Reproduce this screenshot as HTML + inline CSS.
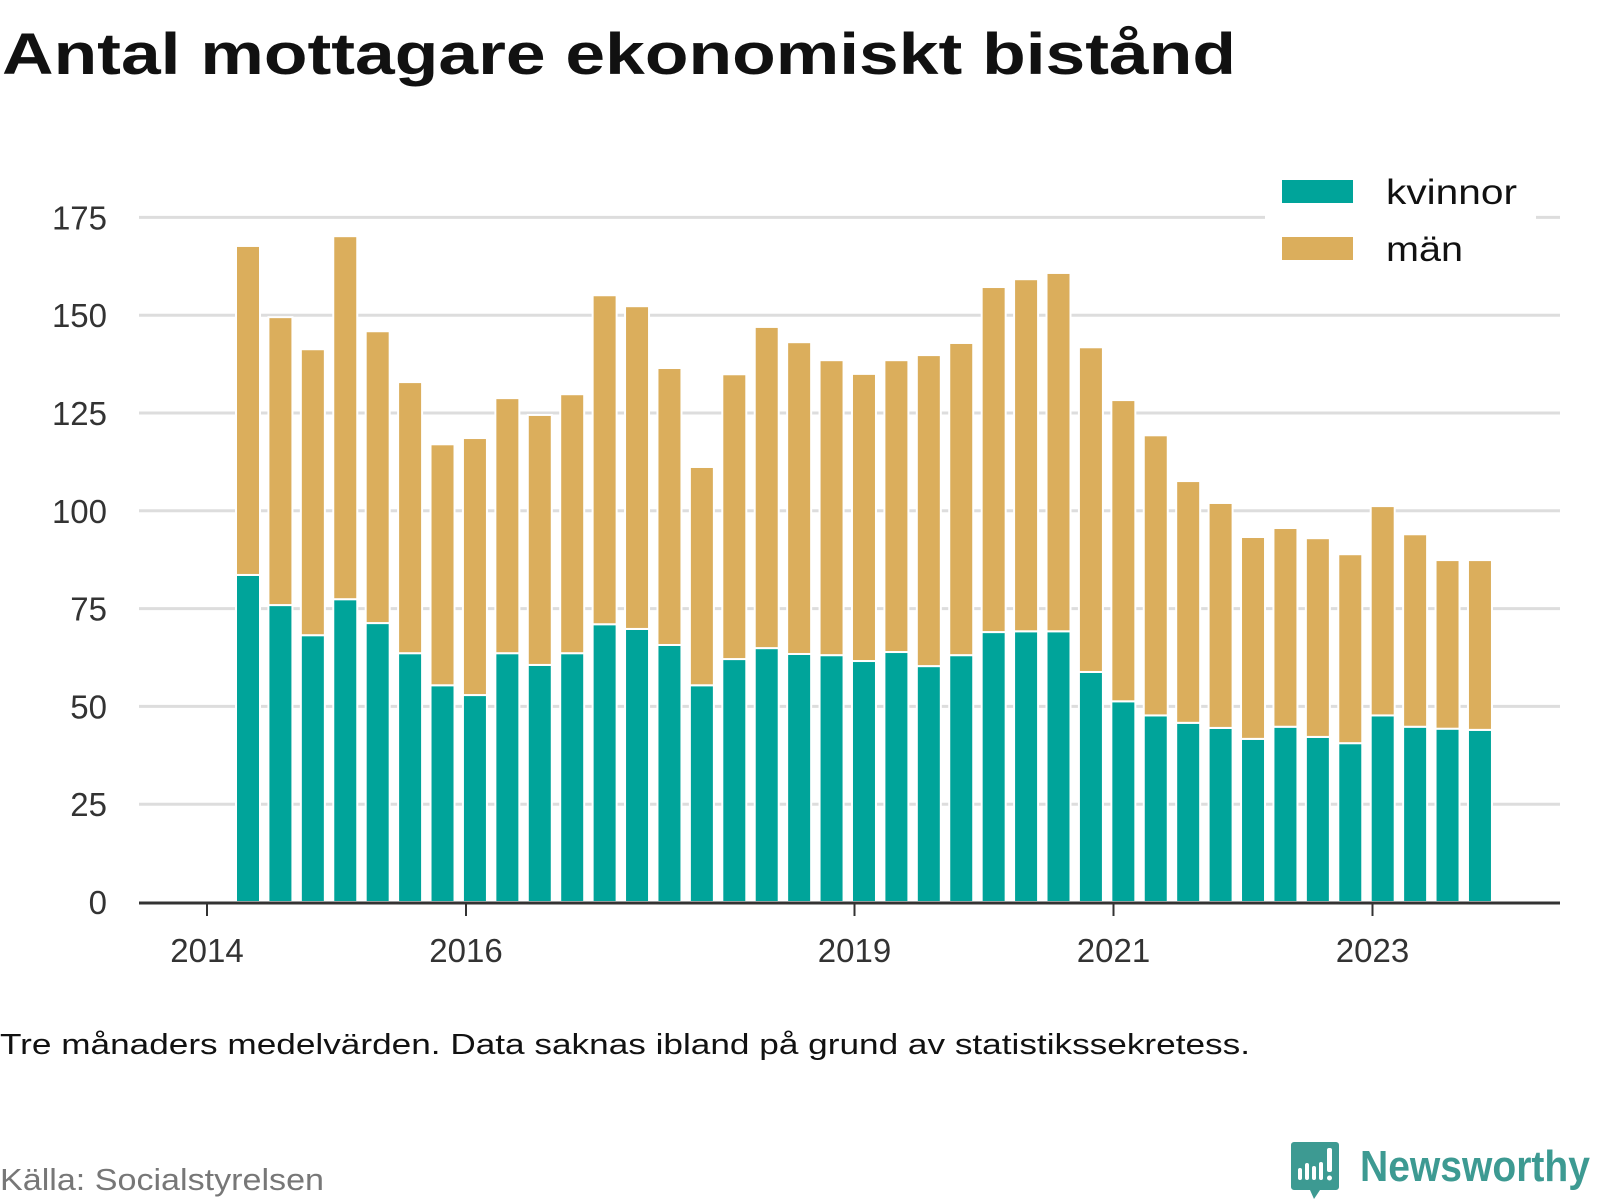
<!DOCTYPE html>
<html><head><meta charset="utf-8"><style>
html,body{margin:0;padding:0;background:#fff;}
svg{display:block;font-family:"Liberation Sans",sans-serif;}
</style></head><body>
<svg width="1600" height="1200" viewBox="0 0 1600 1200" xmlns="http://www.w3.org/2000/svg">
<text x="2" y="74" font-size="58" font-weight="bold" fill="#111" textLength="1234" lengthAdjust="spacingAndGlyphs">Antal mottagare ekonomiskt bistånd</text>
<g id="grid"></g>
<g id="ylabels"></g>
<g id="bars"></g>
<line x1="139" y1="903" x2="1560" y2="903" stroke="#333" stroke-width="3"/>
<g id="xlabels"></g>
<g>
<rect x="1265" y="168" width="271" height="110" fill="#fff"/>
<rect x="1282" y="180" width="71" height="23" fill="#00a49a"/>
<text x="1386" y="204" font-size="35" fill="#111" textLength="131" lengthAdjust="spacingAndGlyphs">kvinnor</text>
<rect x="1282" y="237" width="71" height="23" fill="#dbae5c"/>
<text x="1386" y="261" font-size="35" fill="#111" textLength="77" lengthAdjust="spacingAndGlyphs">män</text>
</g>
<text x="0" y="1054" font-size="29" fill="#111" textLength="1250" lengthAdjust="spacingAndGlyphs">Tre månaders medelvärden. Data saknas ibland på grund av statistikssekretess.</text>
<text x="0" y="1190" font-size="31" fill="#777" textLength="324" lengthAdjust="spacingAndGlyphs">Källa: Socialstyrelsen</text>
<g>
<path d="M1294 1142 h42 a3 3 0 0 1 3 3 v42 a3 3 0 0 1 -3 3 h-16 l-6 9 l-4 -9 h-16 a3 3 0 0 1 -3 -3 v-42 a3 3 0 0 1 3 -3z" fill="#3d9a92"/>
<rect x="1298" y="1168" width="4" height="12" rx="2" fill="#fff"/>
<rect x="1305" y="1163" width="4" height="17" rx="2" fill="#fff"/>
<rect x="1312" y="1166" width="4" height="14" rx="2" fill="#fff"/>
<rect x="1319" y="1162" width="4" height="18" rx="2" fill="#fff"/>
<rect x="1327" y="1148" width="5" height="24" rx="2" fill="#fff"/>
<circle cx="1329.5" cy="1178" r="2.5" fill="#fff"/>
<text x="1360" y="1181" font-size="44" font-weight="bold" fill="#3d9a92" textLength="230" lengthAdjust="spacingAndGlyphs">Newsworthy</text>
</g>
</svg>
<script>
const kvinnor = [83.6,75.9,68.2,77.4,71.3,63.6,55.4,52.9,63.6,60.6,63.6,71.0,69.8,65.7,55.4,62.1,64.9,63.4,63.1,61.6,63.9,60.3,63.1,69.0,69.2,69.2,58.8,51.3,47.7,45.8,44.5,41.7,44.8,42.2,40.6,47.7,44.8,44.3,44.0];
const totals = [167.7,149.5,141.3,170.2,145.9,132.9,117.0,118.6,128.8,124.5,129.8,155.1,152.3,136.5,111.2,134.9,147.0,143.1,138.5,135.0,138.5,139.8,142.9,157.2,159.2,160.8,141.8,128.3,119.3,107.6,102.0,93.3,95.6,93.0,88.9,101.2,94.0,87.4,87.4];
const man = totals.map((t,i)=>+(t-kvinnor[i]).toFixed(1));
const yTicks = [0,25,50,75,100,125,150,175];
const xTickYears = [2014,2016,2019,2021,2023];

const NS='http://www.w3.org/2000/svg';
const y0=902, pxPerUnit=3.912;
const yScale=v=>y0-v*pxPerUnit;
const bandStart=248, bandStep=32.42, barW=24;
const xScale=i=>bandStart+i*bandStep;
const yearX=yr=>207+(yr-2014)*129.5;
function mk(tag,attrs,parent){const e=document.createElementNS(NS,tag);for(const k in attrs)e.setAttribute(k,attrs[k]);parent.appendChild(e);return e;}
const grid=document.getElementById('grid'),yl=document.getElementById('ylabels'),bars=document.getElementById('bars'),xl=document.getElementById('xlabels');
yTicks.forEach(v=>{
  if(v>0){const l=mk('line',{x1:139,x2:1560,y1:yScale(v),y2:yScale(v),stroke:'#ddd','stroke-width':3},grid);
  
  }
  const t=mk('text',{x:107,y:yScale(v)+12,'text-anchor':'end','font-size':33,fill:'#333'},yl);
  t.textContent=v;
  
  
});
kvinnor.forEach((k,i)=>{
  const cx=xScale(i);
  const r1=mk('rect',{x:cx-barW/2,y:yScale(k),width:barW,height:y0-yScale(k),fill:'#00a49a',stroke:'#fff','stroke-width':2},bars);
  
  
  const top=k+man[i];
  const r2=mk('rect',{x:cx-barW/2,y:yScale(top),width:barW,height:yScale(k)-yScale(top),fill:'#dbae5c',stroke:'#fff','stroke-width':2},bars);
  
  
});
xTickYears.forEach(yr=>{
  const x=yearX(yr);
  const tk=mk('line',{x1:x,x2:x,y1:903,y2:916,stroke:'#333','stroke-width':2},xl);
  
  
  const t=mk('text',{x:x,y:962,'text-anchor':'middle','font-size':33,fill:'#333'},xl);
  t.textContent=yr;
  
  
});
</script>
</body></html>
